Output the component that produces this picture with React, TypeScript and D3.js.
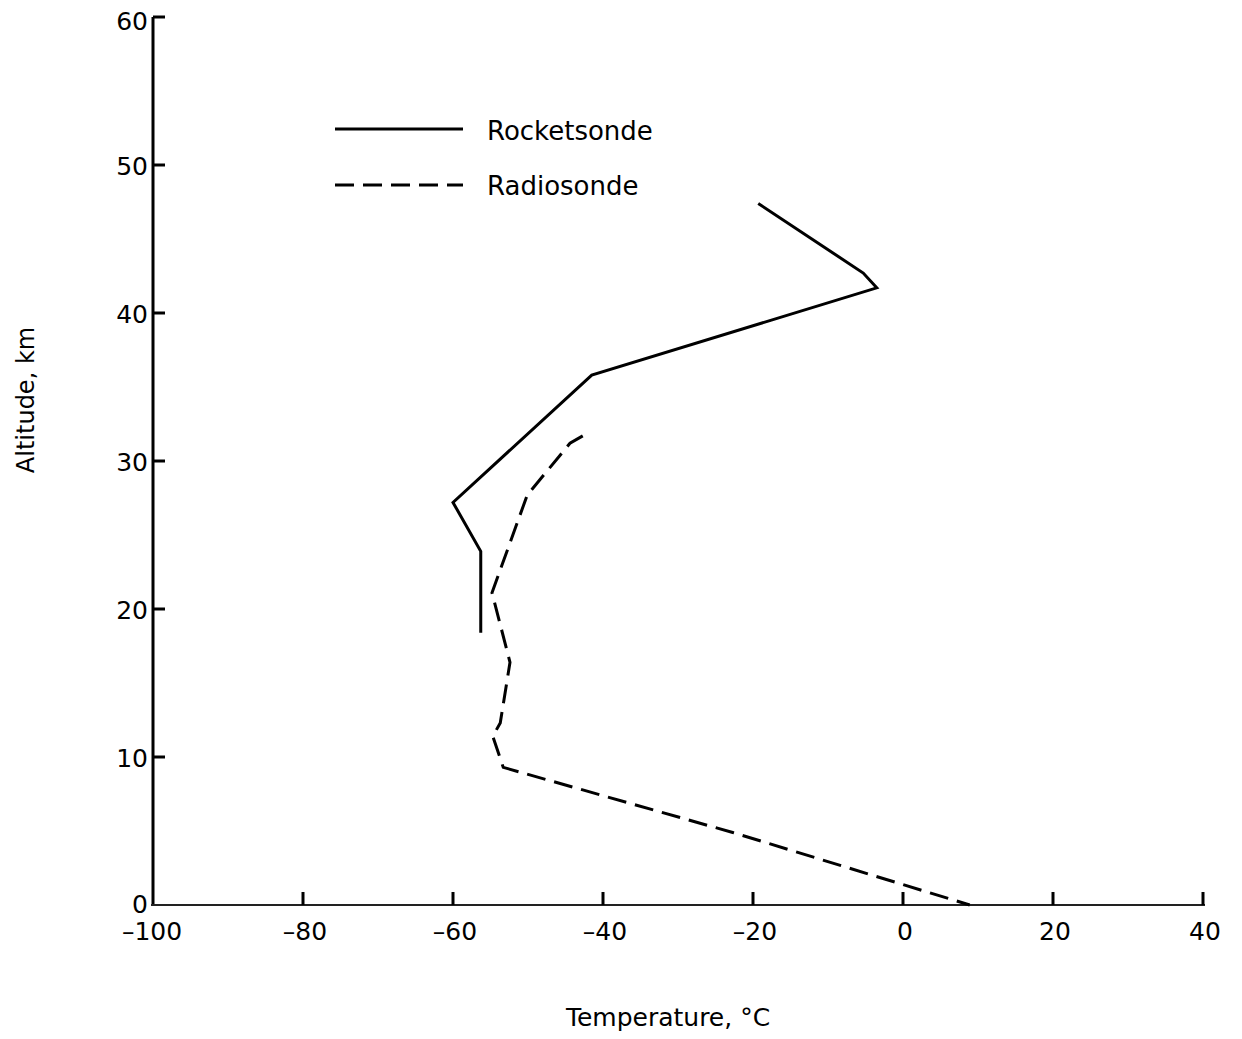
import React from "react";
import * as d3 from "d3";

const rocketTemp = [-19.3, -5.3, -3.5, -41.5, -60.0, -56.3, -56.3];
const rocketAlt = [47.4, 42.7, 41.7, 35.8, 27.2, 23.9, 18.4];

const radioTemp = [-42.7, -44.4, -50.1, -54.8, -52.4, -53.7, -54.7, -53.3, -22.7, 8.9];
const radioAlt = [31.7, 31.2, 27.7, 21.1, 16.4, 12.3, 11.4, 9.3, 4.9, 0];

const xTicks = [-100, -80, -60, -40, -20, 0, 20, 40];
const yTicks = [0, 10, 20, 30, 40, 50, 60];

const legendLabels = ["Rocketsonde", "Radiosonde"];

export default function App() {
  const W = 1242, H = 1039;
  const x = d3.scaleLinear().domain([-100, 40]).range([153, 1203]);
  const y = d3.scaleLinear().domain([0, 60]).range([905, 17]);
  const line = d3
    .line<[number, number]>()
    .x((d) => x(d[0]))
    .y((d) => y(d[1]));
  const rocket = rocketTemp.map((t, i) => [t, rocketAlt[i]] as [number, number]);
  const radio = radioTemp.map((t, i) => [t, radioAlt[i]] as [number, number]);
  const font = "'DejaVu Sans', sans-serif";
  return (
    <svg
      width={W}
      height={H}
      style={{ position: "absolute", left: 0, top: 0, background: "#fff" }}
      fontFamily={font}
    >
      {/* axes */}
      <line x1={x(-100)} x2={x(-100)} y1={y(60)} y2={y(0) + 1} stroke="#000" strokeWidth={3} />
      <line x1={x(-100) - 2} x2={x(40) + 2} y1={y(0)} y2={y(0)} stroke="#222" strokeWidth={2} />
      {yTicks.filter((v) => v > 0).map((v) => (
        <line key={"yt" + v} x1={x(-100)} x2={x(-100) + 12} y1={y(v)} y2={y(v)} stroke="#000" strokeWidth={3} />
      ))}
      {xTicks.filter((v) => v > -100).map((v) => (
        <line key={"xt" + v} x1={x(v)} x2={x(v)} y1={y(0)} y2={y(0) - 13} stroke="#000" strokeWidth={3} />
      ))}
      {yTicks.map((v) => (
        <text key={"yl" + v} x={x(-100) - 5} y={y(v) + (v === 60 ? 4 : v === 0 ? -1 : 1)} dy="0.36em" textAnchor="end" fontSize={25}>
          {v}
        </text>
      ))}
      {xTicks.map((v) => (
        <text key={"xl" + v} x={x(v) + (v === -100 ? -1 : 2)} y={940} textAnchor="middle" fontSize={25}>
          {v < 0 ? "\u2013" + Math.abs(v) : v}
        </text>
      ))}
      {/* data */}
      <path d={line(rocket) || ""} fill="none" stroke="#000" strokeWidth={3} strokeLinejoin="miter" />
      <path d={line(radio) || ""} fill="none" stroke="#000" strokeWidth={3} strokeDasharray="19 9" />
      {/* legend */}
      <line x1={335} x2={463} y1={129} y2={129} stroke="#000" strokeWidth={3} />
      <line x1={335} x2={463} y1={185} y2={185} stroke="#000" strokeWidth={3} strokeDasharray="19 9" />
      <text x={487} y={140} fontSize={26}>{legendLabels[0]}</text>
      <text x={487} y={195} fontSize={26}>{legendLabels[1]}</text>
      {/* titles */}
      <text x={668} y={1026} textAnchor="middle" fontSize={25}>Temperature, °C</text>
      <text transform="translate(34,400) rotate(-90)" textAnchor="middle" fontSize={24}>Altitude, km</text>
    </svg>
  );
}
